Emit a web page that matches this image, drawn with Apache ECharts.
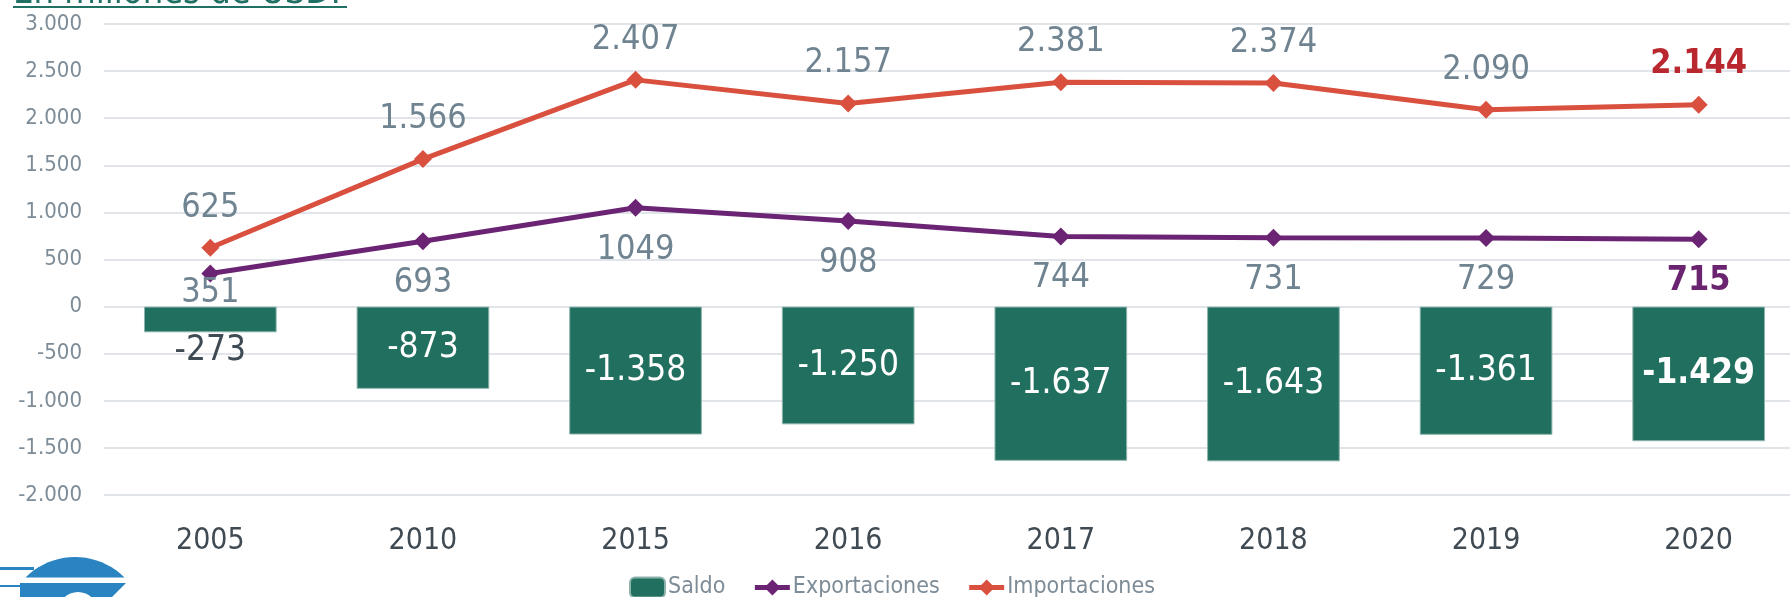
<!DOCTYPE html>
<html>
<head>
<meta charset="utf-8">
<title>Saldo comercial</title>
<script src="https://cdn.jsdelivr.net/npm/echarts@6/dist/echarts.min.js"></script>
<style>
  html, body { margin: 0; padding: 0; background: #fff; }
  #chart { width: 1790px; height: 597px; }
</style>
</head>
<body>
<div id="chart"></div>
<script>
// datos (millones de USD)
var years = ['2005', '2010', '2015', '2016', '2017', '2018', '2019', '2020']
var saldo = [-273, -873, -1358, -1250, -1637, -1643, -1361, -1429]
var exportaciones = [351, 693, 1049, 908, 744, 731, 729, 715]
var importaciones = [625, 1566, 2407, 2157, 2381, 2374, 2090, 2144]
var yTicks = { min: -2000, max: 3000, step: 500 }

var FONT = "'DejaVu Sans Condensed', 'DejaVu Sans', sans-serif"
var GRAY = '#6f8391'

// separador de miles con punto
function miles(v) {
  return String(v).replace(/\B(?=(\d{3})+(?!\d))/g, '.')
}

var last = years.length - 1

var saldoData = saldo.map(function (v, i) {
  if (i === 0) {
    return { value: v, label: { position: 'bottom', distance: 1, color: '#3f4b54' } }
  }
  if (i === last) {
    return { value: v, label: { fontWeight: 'bold' } }
  }
  return v
})

var expData = exportaciones.map(function (v, i) {
  if (i === 0) return { value: v, label: { distance: -6 } }
  if (i === last) return { value: v, label: { fontWeight: 'bold', color: '#6b2470' } }
  return v
})

var impData = importaciones.map(function (v, i) {
  if (i === last) return { value: v, label: { fontWeight: 'bold', color: '#b9282f' } }
  return v
})

// arco del logo
var domePts = []
for (var a = 0; a <= 20; a++) {
  var t = Math.PI * (0.5 + (a / 20 - 0.5) * 0.5)
  domePts.push([75 + 70 * Math.cos(t), 627 - 70 * Math.sin(t)])
}

var myChart = echarts.init(document.getElementById('chart'))

var option = {
  backgroundColor: '#fff',
  animation: false,
  textStyle: { fontFamily: FONT },
  grid: { left: 104, top: 24, width: 1701, height: 471, containLabel: false, outerBoundsMode: 'none' },
  legend: {
    left: 624,
    top: 571,
    itemWidth: 35,
    itemHeight: 20,
    itemGap: 27,
    lineStyle: { width: 5 },
    textStyle: { fontFamily: FONT, fontSize: 23, color: '#7d8c97', padding: [0, 0, 0, -2] },
    data: ['Saldo', 'Exportaciones', 'Importaciones']
  },
  xAxis: {
    type: 'category',
    data: years,
    axisLine: { show: false },
    axisTick: { show: false },
    axisLabel: { fontSize: 30, color: '#404a52', margin: 31, fontFamily: FONT }
  },
  yAxis: {
    type: 'value',
    min: yTicks.min,
    max: yTicks.max,
    interval: yTicks.step,
    axisLine: { show: false },
    axisTick: { show: false },
    axisLabel: { fontSize: 22, color: '#7d8c97', margin: 22, formatter: miles },
    splitLine: { lineStyle: { color: '#e1e5e9', width: 2 } }
  },
  series: [
    {
      name: 'Saldo',
      type: 'bar',
      barWidth: '62.4%',
      data: saldoData,
      itemStyle: { color: '#21705f', borderColor: '#8db3ac', borderWidth: 1 },
      label: {
        show: true,
        position: 'inside',
        fontSize: 35,
        color: '#fff',
        formatter: function (p) { return miles(p.value) }
      }
    },
    {
      name: 'Exportaciones',
      type: 'line',
      data: expData,
      symbol: 'diamond',
      symbolSize: 18,
      lineStyle: { color: '#6b2473', width: 5 },
      itemStyle: { color: '#6b2473' },
      label: {
        show: true,
        position: 'bottom',
        distance: 16,
        fontSize: 34,
        color: GRAY
      }
    },
    {
      name: 'Importaciones',
      type: 'line',
      data: impData,
      symbol: 'diamond',
      symbolSize: 18,
      lineStyle: { color: '#d9503f', width: 5 },
      itemStyle: { color: '#d9503f' },
      label: {
        show: true,
        position: 'top',
        distance: 14,
        fontSize: 34,
        color: GRAY,
        formatter: function (p) { return miles(p.value) }
      }
    }
  ],
  graphic: [
    // titulo recortado arriba
    {
      type: 'text',
      x: 13,
      y: 12,
      style: { text: 'En millones de USD:', fontSize: 36, fontFamily: FONT, fill: '#217064', verticalAlign: 'bottom' }
    },
    {
      type: 'rect',
      shape: { x: 13, y: 6, width: 334, height: 2 },
      style: { fill: '#217064' }
    },
    // logo (parte visible)
    { type: 'rect', shape: { x: 0, y: 567, width: 34, height: 3 }, style: { fill: '#2a84c1' } },
    { type: 'polygon', shape: { points: domePts }, style: { fill: '#2a84c1' } },
    { type: 'rect', shape: { x: 0, y: 585, width: 36, height: 2 }, style: { fill: '#2a84c1' } },
    { type: 'polygon', shape: { points: [[20, 583], [126, 583], [112, 597], [20, 597]] }, style: { fill: '#2a84c1' } },
    { type: 'circle', shape: { cx: 78, cy: 612, r: 20 }, style: { fill: '#fff' } }
  ]
}

myChart.setOption(option, true)

window.addEventListener('resize', function () {
  myChart.resize()
})
</script>
</body>
</html>
